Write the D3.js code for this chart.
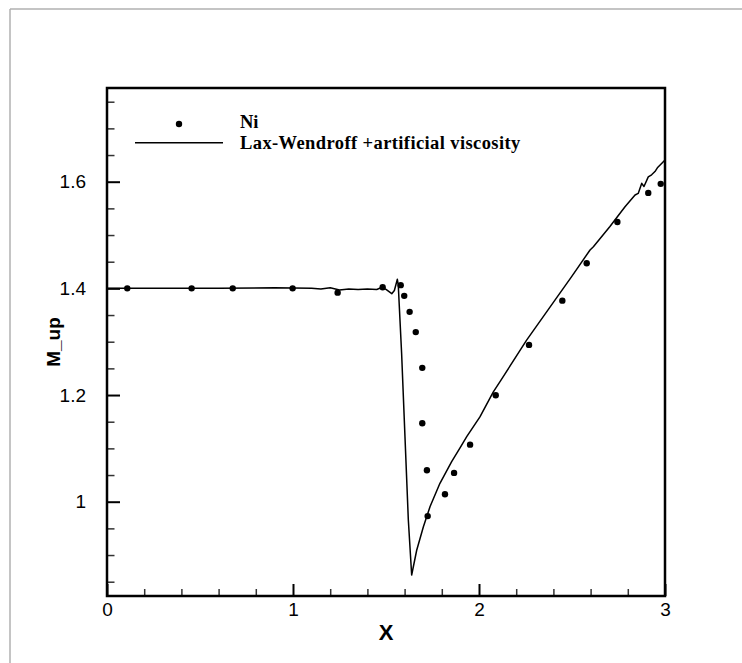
<!DOCTYPE html>
<html>
<head>
<meta charset="utf-8">
<script src="https://cdn.jsdelivr.net/npm/d3@7"></script>
<style>
  html, body { margin: 0; padding: 0; background: #fff; }
  svg { display: block; }
</style>
</head>
<body>
<div id="chart"></div>
<script>
// ---- data ----
const niX = [0.109, 0.455, 0.676, 0.998, 1.240, 1.482, 1.579, 1.598, 1.627, 1.660, 1.695, 1.695,
             1.720, 1.724, 1.817, 1.866, 1.952, 2.090, 2.269, 2.448, 2.579, 2.744, 2.910, 2.977];
const niY = [1.400, 1.400, 1.400, 1.400, 1.392, 1.402, 1.406, 1.386, 1.356, 1.318, 1.251, 1.147,
             1.059, 0.973, 1.014, 1.054, 1.107, 1.1995, 1.294, 1.377, 1.447, 1.5245, 1.579, 1.596];

const lwX = [0.0, 0.3, 0.6, 0.9, 1.1, 1.15, 1.2, 1.25, 1.3, 1.35, 1.4, 1.45, 1.48, 1.50, 1.531, 1.545,
             1.561, 1.566, 1.584, 1.602, 1.620, 1.638, 1.665, 1.701, 1.737, 1.790, 1.853, 1.898,
             1.934, 2.005, 2.077, 2.113, 2.256, 2.435, 2.498, 2.597, 2.615, 2.704, 2.785, 2.839,
             2.856, 2.875, 2.887, 2.910, 2.928, 2.946, 2.959, 2.991, 3.0];
const lwY = [1.400, 1.400, 1.400, 1.401, 1.400, 1.399, 1.401, 1.397, 1.399, 1.398, 1.399, 1.398, 1.402, 1.398, 1.390, 1.396,
             1.417, 1.406, 1.278, 1.122, 0.966, 0.8626, 0.909, 0.953, 0.991, 1.0345, 1.075, 1.101,
             1.122, 1.159, 1.206, 1.225, 1.303, 1.391, 1.422, 1.472, 1.478, 1.516, 1.553, 1.575,
             1.578, 1.597, 1.591, 1.609, 1.613, 1.619, 1.626, 1.6375, 1.640];

const xMajorTicks = [0, 1, 2, 3];
const xTickLabels = ["0", "1", "2", "3"];
const yMajorTicks = [1.0, 1.2, 1.4, 1.6];
const yTickLabels = ["1", "1.2", "1.4", "1.6"];
const xMinorTicks = [0.2, 0.4, 0.6, 0.8, 1.2, 1.4, 1.6, 1.8, 2.2, 2.4, 2.6, 2.8];
const yMinorTicks = [0.85, 0.9, 0.95, 1.05, 1.1, 1.15, 1.25, 1.3, 1.35, 1.45, 1.5, 1.55, 1.65, 1.7, 1.75];

const legendLabels = ["Ni", "Lax-Wendroff +artificial viscosity"];
const xTitle = "X";
const yTitle = "M_up";

// ---- layout ----
const W = 742, H = 663;
const margin = { left: 107, top: 88, right: 77, bottom: 67 };
const pw = W - margin.left - margin.right;   // 558
const ph = H - margin.top - margin.bottom;   // 508

const svg = d3.select("#chart").append("svg").attr("width", W).attr("height", H);

// outer gray frame (top and left visible)
svg.append("line").attr("x1", 10).attr("y1", 9).attr("x2", W).attr("y2", 9)
  .attr("stroke", "#b0b0b0").attr("stroke-width", 1.5);
svg.append("line").attr("x1", 10).attr("y1", 9).attr("x2", 10).attr("y2", H)
  .attr("stroke", "#b0b0b0").attr("stroke-width", 1.5);

const x = d3.scaleLinear().domain([0, 3]).range([0, pw]);
const y = d3.scaleLinear().domain([0.8232, 1.7757]).range([ph, 0]);

const g = svg.append("g").attr("transform", `translate(${margin.left},${margin.top})`);

// clip
g.append("clipPath").attr("id", "clip").append("rect").attr("width", pw).attr("height", ph);

// line series
const line = d3.line().x((d, i) => x(lwX[i])).y((d, i) => y(lwY[i]));
g.append("path").datum(lwX).attr("d", line).attr("fill", "none")
  .attr("stroke", "#000").attr("stroke-width", 1.5).attr("stroke-linejoin", "round")
  .attr("clip-path", "url(#clip)");

// dots
g.selectAll("circle.ni").data(niX).join("circle").attr("class", "ni")
  .attr("cx", (d) => x(d)).attr("cy", (d, i) => y(niY[i])).attr("r", 3.2).attr("fill", "#000");

// axes (ticks inward)
const xAxisMajor = d3.axisBottom(x).tickValues(xMajorTicks).tickSizeInner(-12).tickSizeOuter(0)
  .tickFormat((d, i) => xTickLabels[i]).tickPadding(20);
const gx = g.append("g").attr("transform", `translate(0,${ph})`).call(xAxisMajor);
gx.select(".domain").remove();
gx.selectAll(".tick line").attr("stroke", "#000").attr("stroke-width", 2);
gx.selectAll(".tick text").attr("font-family", "Liberation Sans, Arial, sans-serif")
  .attr("font-size", 19).attr("fill", "#000").attr("dy", "0");

const xAxisMinor = d3.axisBottom(x).tickValues(xMinorTicks).tickSizeInner(-7).tickSizeOuter(0).tickFormat("");
const gxm = g.append("g").attr("transform", `translate(0,${ph})`).call(xAxisMinor);
gxm.select(".domain").remove();
gxm.selectAll(".tick line").attr("stroke", "#333").attr("stroke-width", 1.5);

const yAxisMajor = d3.axisLeft(y).tickValues(yMajorTicks).tickSizeInner(-13).tickSizeOuter(0)
  .tickFormat((d, i) => yTickLabels[i]).tickPadding(21);
const gy = g.append("g").call(yAxisMajor);
gy.select(".domain").remove();
gy.selectAll(".tick line").attr("stroke", "#000").attr("stroke-width", 2);
gy.selectAll(".tick text").attr("font-family", "Liberation Sans, Arial, sans-serif")
  .attr("font-size", 19).attr("fill", "#000");

const yAxisMinor = d3.axisLeft(y).tickValues(yMinorTicks).tickSizeInner(-7.5).tickSizeOuter(0).tickFormat("");
const gym = g.append("g").call(yAxisMinor);
gym.select(".domain").remove();
gym.selectAll(".tick line").attr("stroke", "#333").attr("stroke-width", 1.5);

// frame
g.append("rect").attr("x", 0).attr("y", 0).attr("width", pw).attr("height", ph)
  .attr("fill", "none").attr("stroke", "#000").attr("stroke-width", 2.5);

// axis titles
svg.append("text").attr("x", margin.left + pw / 2).attr("y", 640).attr("text-anchor", "middle")
  .attr("font-family", "Liberation Sans, Arial, sans-serif").attr("font-weight", "bold")
  .attr("font-size", 22).text(xTitle);
svg.append("text").attr("transform", `translate(60,${margin.top + ph / 2}) rotate(-90)`)
  .attr("text-anchor", "middle")
  .attr("font-family", "Liberation Sans, Arial, sans-serif").attr("font-weight", "bold")
  .attr("font-size", 19).text(yTitle);

// legend
svg.append("circle").attr("cx", 179).attr("cy", 124).attr("r", 3.2).attr("fill", "#000");
svg.append("line").attr("x1", 135).attr("x2", 223).attr("y1", 142.7).attr("y2", 142.7)
  .attr("stroke", "#000").attr("stroke-width", 1.5);
svg.append("text").attr("x", 240).attr("y", 128)
  .attr("font-family", "Liberation Serif, Times New Roman, serif").attr("font-weight", "bold")
  .attr("font-size", 18.5).text(legendLabels[0]);
svg.append("text").attr("x", 240).attr("y", 149)
  .attr("font-family", "Liberation Serif, Times New Roman, serif").attr("font-weight", "bold")
  .attr("font-size", 18.5).attr("letter-spacing", 0.4).text(legendLabels[1]);
</script>
</body>
</html>
